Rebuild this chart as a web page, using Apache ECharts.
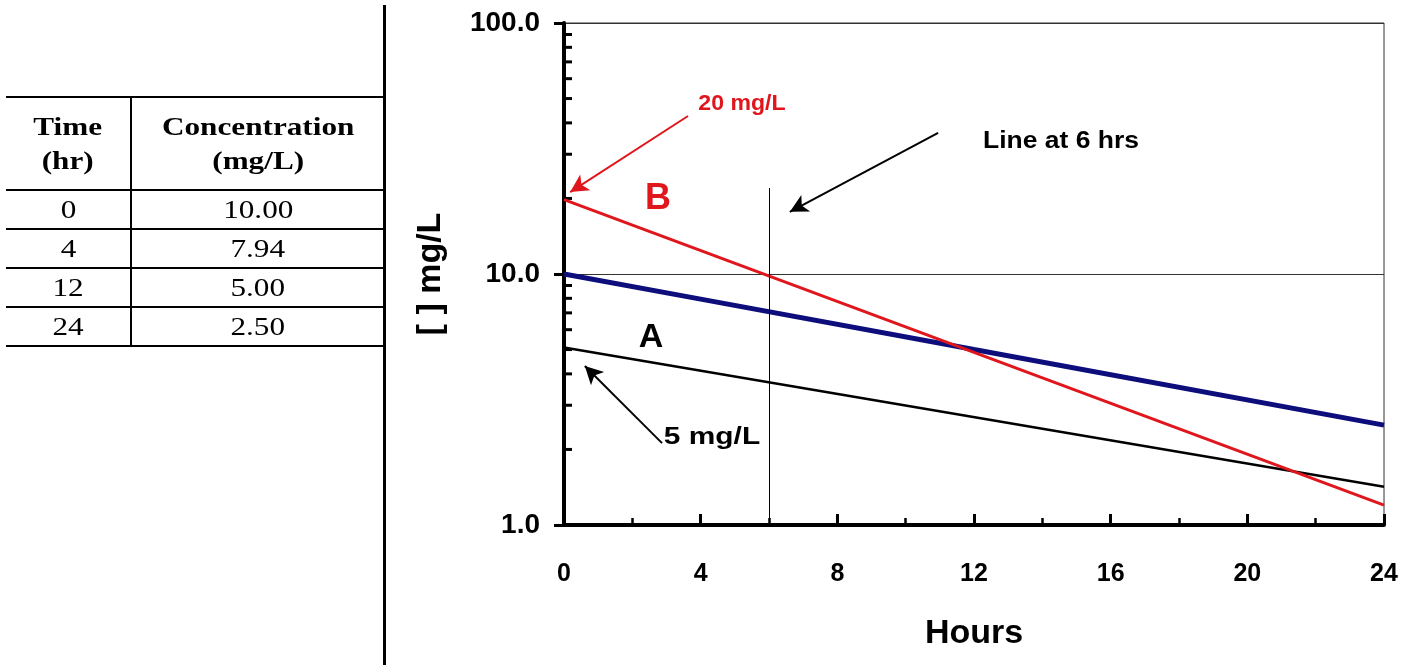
<!DOCTYPE html>
<html>
<head>
<meta charset="utf-8">
<script src="https://cdn.jsdelivr.net/npm/echarts@6/dist/echarts.min.js"></script>
<style>
html,body{margin:0;padding:0;background:#fff;}
.main{position:relative;width:1414px;height:665px;overflow:hidden;}
#chart{position:absolute;left:0;top:0;width:1414px;height:665px;}
.divider{position:absolute;left:383px;top:5px;width:3px;height:660px;background:#000;}
.tbl{position:absolute;left:6px;top:96px;width:378px;border-collapse:collapse;font-family:"Liberation Serif","Times New Roman",serif;color:#000;}
.tbl td,.tbl th{border-top:2px solid #000;border-bottom:2px solid #000;text-align:center;padding:0;font-size:26px;}
.tbl th{font-weight:bold;height:91px;line-height:34px;}
.tbl td{height:37px;line-height:37px;}
.tbl .c1{width:124px;border-right:2px solid #000;}
.tbl span{display:inline-block;transform:scaleX(1.2);}
</style>
</head>
<body>
<div class="main">
    <div id="chart"></div>
    <div class="divider"></div>
    <table class="tbl" id="tbl"></table>
</div>
<script>
// table / blue curve data
var timeHr = [0, 4, 12, 24]
var concMgL = [10.00, 7.94, 5.00, 2.50]
// line B (starts at 20 mg/L) and line A (starts at 5 mg/L)
var lineBTime = [0, 24]
var lineBConc = [19.8, 1.2]
var lineATime = [0, 24]
var lineAConc = [5.1, 1.42]
// minor ticks on the log axis
var yMinorTicks = [2, 3, 4, 5, 6, 7, 8, 9, 20, 30, 40, 50, 60, 70, 80, 90]
var sixHrLine = [[6, 1], [6, 22]]

// fill the table
var html = '<tr><th class="c1"><span>Time<br>(hr)</span></th><th><span>Concentration<br>(mg/L)</span></th></tr>'
for (var i = 0; i < timeHr.length; i++) {
    html += '<tr><td class="c1"><span>' + timeHr[i] + '</span></td><td><span>' + concMgL[i].toFixed(2) + '</span></td></tr>'
}
document.getElementById('tbl').innerHTML = html

function pairs(xs, ys) {
    return xs.map(function (x, i) { return [x, ys[i]] })
}

var font = '"Liberation Sans", Arial, sans-serif'
// annotation text helper
function note(x, y, text, color, size, sx) {
    return {
        type: 'text', x: x, y: y, scaleX: sx || 1,
        style: { text: text, fill: color, font: 'bold ' + size + 'px ' + font, align: 'center', verticalAlign: 'middle' }
    }
}
var chart = echarts.init(document.getElementById('chart'))
var option = {
    animation: false,
    grid: {
        left: 564, top: 23, right: 30, bottom: 140,
        show: true, borderColor: '#333', borderWidth: 1
    },
    xAxis: {
        type: 'value', min: 0, max: 24, interval: 4,
        name: 'Hours', nameLocation: 'middle', nameGap: 92,
        nameTextStyle: { color: '#000', fontSize: 34, fontWeight: 'bold', fontFamily: font },
        axisLine: { lineStyle: { color: '#000', width: 4 } },
        axisTick: { inside: true, length: 11, lineStyle: { color: '#000', width: 3 } },
        minorTick: { show: true, splitNumber: 2, length: 7, lineStyle: { color: '#000', width: 2.5 } },
        splitLine: { show: false },
        axisLabel: { margin: 37, color: '#000', fontSize: 25, fontWeight: 'bold', fontFamily: font }
    },
    yAxis: {
        type: 'log', logBase: 10, min: 1, max: 100,
        name: '[ ] mg/L', nameLocation: 'middle', nameGap: 116, nameRotate: 90,
        nameTextStyle: { color: '#000', fontSize: 34, fontWeight: 'bold', fontFamily: font },
        axisLine: { lineStyle: { color: '#000', width: 4 } },
        axisTick: { length: 10, lineStyle: { color: '#000', width: 3 } },
        splitLine: { show: true, lineStyle: { color: '#333', width: 1 } },
        axisLabel: {
            margin: 24, color: '#000', fontSize: 28, fontWeight: 'bold', fontFamily: font,
            formatter: function (v) { return v.toFixed(1) }
        }
    },
    series: [
        {
            name: 'minor ticks', type: 'custom', clip: false, silent: true,
            data: yMinorTicks.map(function (v) { return [0, v] }),
            encode: { x: 0, y: 1 },
            renderItem: function (params, api) {
                var p = api.coord([api.value(0), api.value(1)])
                return {
                    type: 'line',
                    shape: { x1: p[0], y1: p[1], x2: p[0] + 8, y2: p[1] },
                    style: { stroke: '#000', lineWidth: 3 }
                }
            }
        },
        {
            name: 'Line A', type: 'line', symbol: 'none', silent: true,
            data: pairs(lineATime, lineAConc),
            lineStyle: { color: '#000', width: 2.5 },
            markLine: {
                silent: true, symbol: ['none', 'none'],
                label: { show: false },
                lineStyle: { color: '#000', width: 1, type: 'solid' },
                data: [[{ coord: sixHrLine[0] }, { coord: sixHrLine[1] }]]
            }
        },
        {
            name: 'Blue', type: 'line', symbol: 'none', silent: true,
            data: pairs(timeHr, concMgL),
            lineStyle: { color: '#0d0d7c', width: 5 }
        },
        {
            name: 'Line B', type: 'line', symbol: 'none', silent: true,
            data: pairs(lineBTime, lineBConc),
            lineStyle: { color: '#e0161d', width: 3 },
            markLine: {
                silent: true, symbol: ['none', 'arrow'], symbolSize: [14, 18],
                label: { show: false },
                lineStyle: { color: '#e0161d', width: 2, type: 'solid' },
                data: [[{ coord: [3.63, 42.6] }, { coord: [0.18, 21.2] }]]
            }
        },
        {
            name: 'arrows', type: 'line', symbol: 'none', silent: true, data: [],
            markLine: {
                silent: true, symbol: ['none', 'arrow'], symbolSize: [14, 18],
                label: { show: false },
                lineStyle: { color: '#000', width: 2, type: 'solid' },
                data: [
                    [{ coord: [10.95, 36.5] }, { coord: [6.61, 17.7] }],
                    [{ coord: [2.87, 2.12] }, { coord: [0.61, 4.3] }]
                ]
            }
        }
    ],
    graphic: [
        note(742, 104, '20 mg/L', '#e0161d', 22, 1.05),
        note(658, 199, 'B', '#e0161d', 36, 1),
        note(1061, 142, 'Line at 6 hrs', '#000', 23, 1.15),
        note(651, 338, 'A', '#000', 34, 1),
        note(712, 438, '5 mg/L', '#000', 23, 1.3)
    ]
}
chart.setOption(option)
</script>
</body>
</html>
